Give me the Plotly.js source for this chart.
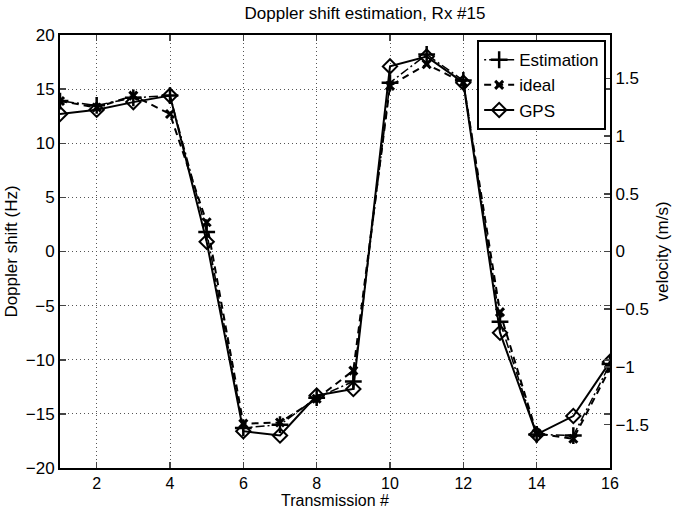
<!DOCTYPE html>
<html>
<head>
<meta charset="utf-8">
<script src="https://cdn.plot.ly/plotly-3.0.1.min.js"></script>
<style>html,body{margin:0;padding:0;background:#fff;}#chart{width:678px;height:510px;}</style>
</head>
<body>
<div id="chart"></div>
<script>
const transmission = [1,2,3,4,5,6,7,8,9,10,11,12,13,14,15,16];
const estimation = [13.9,13.5,14.2,14.4,1.8,-16.3,-16.0,-13.5,-12.0,15.6,18.2,15.8,-6.5,-16.9,-17.0,-10.4];
const ideal = [13.9,13.3,14.4,12.7,2.7,-15.9,-15.8,-13.6,-11.0,15.3,17.3,15.6,-5.6,-16.8,-17.3,-10.8];
const gps = [12.7,13.1,13.8,14.4,0.9,-16.6,-17.0,-13.3,-12.7,17.1,18.0,15.6,-7.5,-16.9,-15.2,-10.2];
const hzToVelocity = 0.09375; // m/s per Hz
const yTickVals = [-20,-15,-10,-5,0,5,10,15,20];
const vTickVals = [-1.5,-1,-0.5,0,0.5,1,1.5];

const fontFam = 'Liberation Sans, Arial, Helvetica, sans-serif';
const traces = [
  {x: transmission, y: estimation, name: 'Estimation', mode: 'lines+markers',
   line: {color: '#000', width: 1.5, dash: '2px,3px,9px,3px'},
   marker: {symbol: 'cross-thin', size: 12, color: '#000', line: {color: '#000', width: 2.5}}},
  {x: transmission, y: ideal, name: 'ideal', mode: 'lines+markers',
   line: {color: '#000', width: 2, dash: '7px,5px'},
   marker: {symbol: 'x-thin', size: 8, color: '#000', line: {color: '#000', width: 3}}},
  {x: transmission, y: gps, name: 'GPS', mode: 'lines+markers',
   line: {color: '#000', width: 2},
   marker: {symbol: 'diamond-open', size: 11, color: '#000', line: {color: '#000', width: 2}}},
  {x: transmission, y: gps.map(v => v * hzToVelocity), yaxis: 'y2', mode: 'lines',
   line: {width: 0, color: 'rgba(0,0,0,0)'}, showlegend: false, hoverinfo: 'skip'}
];

const gridStyle = {showgrid: true, gridcolor: '#555', griddash: '1px,3px', gridwidth: 1};
const layout = {
  width: 678, height: 510,
  margin: {l: 60, r: 68, t: 35, b: 42},
  paper_bgcolor: '#fff', plot_bgcolor: '#fff',
  font: {family: fontFam, size: 16, color: '#000'},
  title: {text: 'Doppler shift estimation, Rx #15', font: {size: 17}, x: (60 + 305) / 678, xanchor: 'center', y: 1 - 13 / 510, yanchor: 'middle'},
  showlegend: true,
  legend: {x: 0.993, xanchor: 'right', y: 0.988, yanchor: 'top', bgcolor: '#fff',
           bordercolor: '#000', borderwidth: 2, font: {size: 17}, tracegroupgap: 0},
  xaxis: Object.assign({range: [1,16], dtick: 2, tick0: 0, ticks: 'inside', ticklen: 6, tickwidth: 1.5,
          showline: true, linecolor: '#000', linewidth: 2, mirror: 'ticks', tickfont: {size: 16},
          zeroline: false, title: {text: 'Transmission #', standoff: 3, font: {size: 16}}}, gridStyle),
  yaxis: Object.assign({range: [-20,20], tickvals: yTickVals, ticks: 'inside', ticklen: 6, tickwidth: 1.5,
          showline: true, linecolor: '#000', linewidth: 2, mirror: 'ticks', tickfont: {size: 17},
          zeroline: false, title: {text: 'Doppler shift (Hz)', standoff: 4, font: {size: 17}}}, gridStyle),
  yaxis2: {range: [-20*hzToVelocity, 20*hzToVelocity], tickvals: vTickVals, overlaying: 'y', side: 'right',
           ticks: 'inside', ticklen: 6, tickwidth: 1.5, showline: true, linecolor: '#000', linewidth: 2,
           showgrid: false, zeroline: false, tickfont: {size: 17},
           title: {text: 'velocity (m/s)', standoff: 8, font: {size: 17}}}
};

Plotly.newPlot('chart', traces, layout, {displayModeBar: false, staticPlot: true});
</script>
</body>
</html>
